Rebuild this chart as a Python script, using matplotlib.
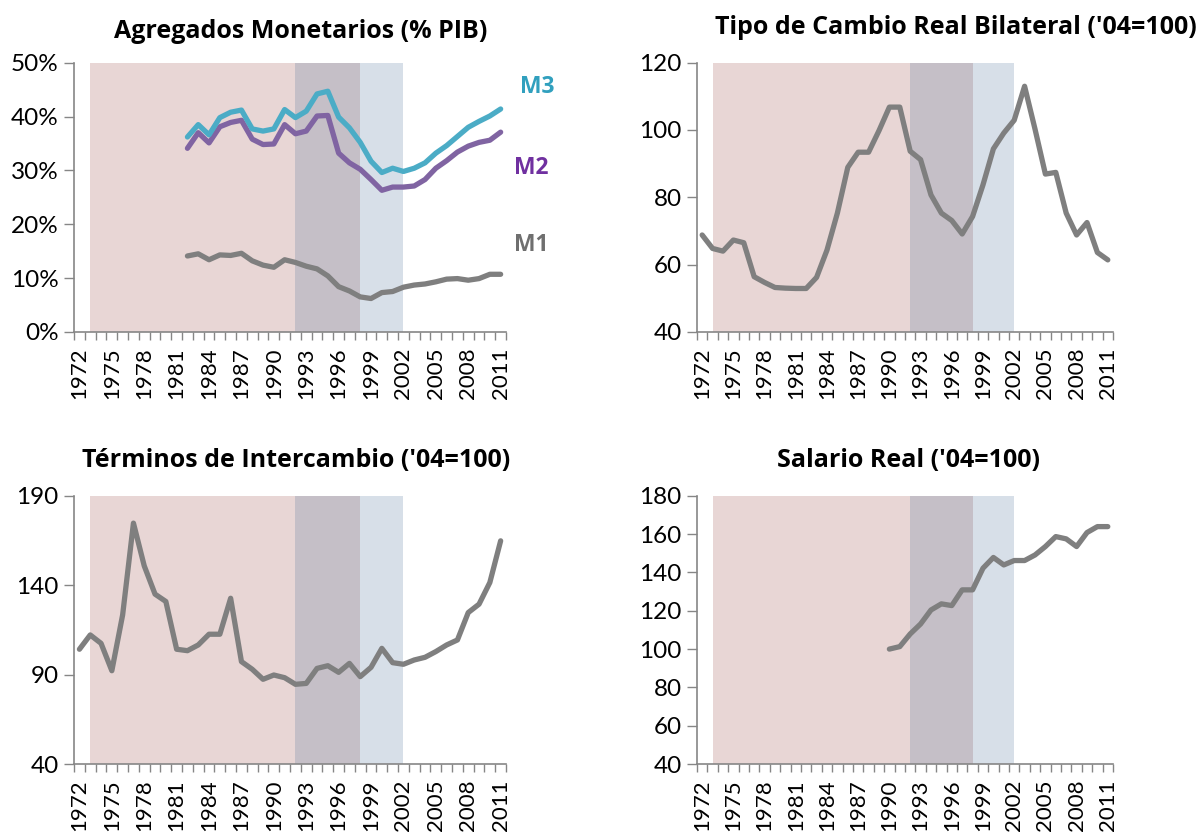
import numpy as np
import matplotlib
matplotlib.use("Agg")
import matplotlib.pyplot as plt

plt.rcParams['font.family'] = ['Lato', 'DejaVu Sans']
BOLD = ['Open Sans', 'DejaVu Sans']

# ---- data -------------------------------------------------------------
years = list(range(1972, 2012))
years_money = list(range(1982, 2012))
years_wage = list(range(1990, 2012))

m1 = [14.1, 14.5, 13.4, 14.3, 14.2, 14.6, 13.2, 12.4, 12.0, 13.4,
      12.9, 12.2, 11.7, 10.4, 8.4, 7.6, 6.5, 6.2, 7.3, 7.5,
      8.3, 8.7, 8.9, 9.3, 9.8, 9.9, 9.6, 9.9, 10.7, 10.7]
m2 = [34.1, 37.0, 35.1, 38.1, 38.9, 39.3, 35.8, 34.8, 34.9, 38.5,
      36.8, 37.3, 40.1, 40.2, 33.2, 31.4, 30.2, 28.3, 26.3, 26.9,
      26.9, 27.1, 28.3, 30.4, 31.8, 33.4, 34.5, 35.2, 35.6, 37.1]
m3 = [36.2, 38.5, 36.6, 39.8, 40.8, 41.2, 37.7, 37.3, 37.7, 41.3,
      39.8, 41.0, 44.2, 44.7, 39.9, 37.9, 35.2, 31.7, 29.6, 30.4,
      29.8, 30.4, 31.4, 33.2, 34.6, 36.3, 38.0, 39.1, 40.1, 41.4]

tcr = [68.8, 64.8, 64.0, 67.3, 66.5, 56.4, 54.7, 53.2, 53.0, 52.9,
       52.9, 56.2, 64.3, 75.3, 88.9, 93.4, 93.4, 99.8, 106.8, 106.8,
       93.7, 91.2, 80.7, 75.3, 73.1, 69.1, 74.3, 83.7, 94.4, 99.1,
       102.9, 113.0, 100.3, 86.9, 87.4, 75.3, 68.8, 72.5, 63.6, 61.4]

tdi = [104.2, 112.2, 107.5, 92.2, 123.4, 174.7, 150.8, 135.0, 130.9, 104.2,
       103.4, 106.6, 112.6, 112.6, 132.7, 97.3, 93.0, 87.4, 89.8, 88.3,
       84.6, 85.1, 93.5, 95.0, 91.3, 96.3, 88.9, 94.1, 104.7, 96.7,
       95.8, 98.2, 99.7, 102.9, 106.6, 109.4, 124.7, 129.4, 141.5, 164.8]

wage = [100.0, 101.3, 107.9, 113.1, 120.4, 123.6, 122.7, 130.9, 130.9, 142.2,
        147.8, 143.9, 146.2, 146.2, 149.1, 153.5, 158.7, 157.5, 153.5, 160.8,
        163.9, 163.9]

# shaded periods (start, end, colour)
periods = [(1973, 1992, '#e8d6d5'), (1992, 1998, '#c5bfc7'), (1998, 2002, '#d7dfe8')]
label_years = list(range(1972, 2012, 3))

GRAY = '#7f7f7f'
AXC = '#868686'


def style_axis(ax, ylim, yticks, title, tpos, tpad, ylabels=None):
    for start, end, col in periods:
        ax.axvspan(start, end, color=col, lw=0, zorder=0)
    ax.set_xlim(years[0] - 0.5, years[-1] + 0.5)
    ax.set_ylim(*ylim)
    ax.set_yticks(yticks)
    if ylabels is not None:
        ax.set_yticklabels(ylabels)
    ax.set_xticks(label_years)
    ax.set_xticklabels([str(y) for y in label_years], rotation=90)
    ax.set_xticks(np.arange(years[0] - 0.5, years[-1] + 1), minor=True)
    ax.tick_params(axis='x', which='major', length=0, pad=11, labelsize=16)
    ax.tick_params(axis='x', which='minor', length=6, width=1, color=AXC)
    ax.tick_params(axis='y', length=7, width=1, color=AXC, labelsize=17.5, pad=4)
    for s in ['top', 'right']:
        ax.spines[s].set_visible(False)
    for s in ['left', 'bottom']:
        ax.spines[s].set_color(AXC)
        ax.spines[s].set_linewidth(1.2)
    t = ax.set_title(title, fontsize=18, fontweight='bold', family=BOLD, pad=tpad)
    t.set_position((tpos, 1.0))


fig = plt.figure(figsize=(12, 8.36), dpi=100)
ax1 = fig.add_axes([0.0617, 0.603, 0.36, 0.322])
ax2 = fig.add_axes([0.5808, 0.603, 0.3467, 0.322])
ax3 = fig.add_axes([0.0617, 0.086, 0.36, 0.321])
ax4 = fig.add_axes([0.5808, 0.086, 0.3467, 0.321])

# panel 1
style_axis(ax1, (0, 50), range(0, 51, 10), 'Agregados Monetarios (% PIB)', 0.525, 18,
           [f'{v}%' for v in range(0, 51, 10)])
ax1.plot(years_money, m1, color=GRAY, lw=3.8, solid_capstyle='round')
ax1.plot(years_money, m2, color='#8064a2', lw=3.8, solid_capstyle='round')
ax1.plot(years_money, m3, color='#4bacc6', lw=3.8, solid_capstyle='round')
for txt, x, y, col in [('M3', 2014.4, 45.4, '#31a0be'),
                       ('M2', 2013.8, 30.5, '#7030a0'),
                       ('M1', 2013.8, 16.1, '#6f6f6f')]:
    ax1.text(x, y, txt, color=col, fontsize=16.5, fontweight='bold', family=BOLD,
             ha='center', va='center', clip_on=False)

# panel 2
style_axis(ax2, (40, 120), range(40, 121, 20), "Tipo de Cambio Real Bilateral ('04=100)", 0.623, 21)
ax2.plot(years, tcr, color=GRAY, lw=3.8, solid_capstyle='round')

# panel 3
style_axis(ax3, (40, 190), range(40, 191, 50), "Términos de Intercambio ('04=100)", 0.515, 21)
ax3.plot(years, tdi, color=GRAY, lw=3.8, solid_capstyle='round')

# panel 4
style_axis(ax4, (40, 180), range(40, 181, 20), "Salario Real ('04=100)", 0.508, 21)
ax4.plot(years_wage, wage, color=GRAY, lw=3.8, solid_capstyle='round')

fig.savefig('out.png', dpi=100)
